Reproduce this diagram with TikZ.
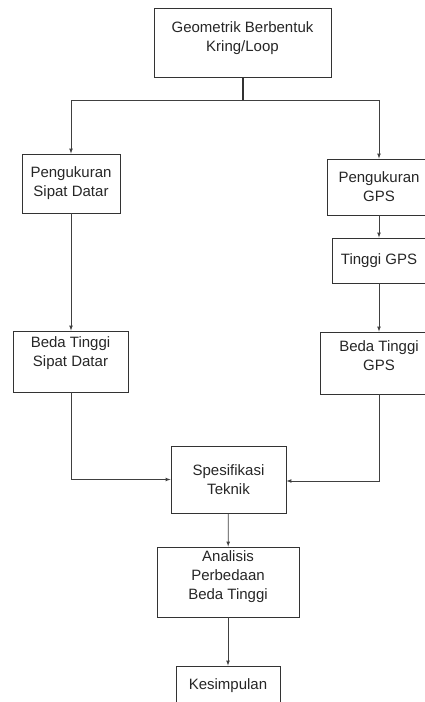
\documentclass[tikz,border=0pt]{standalone}
\usepackage{fontspec}
\setmainfont{Liberation Sans}
\usepackage{tikz}

\tikzset{
  kotak/.style={draw=black!80, line width=0.9pt, align=center, inner sep=0pt,
    text=black!85, font=\fontsize{15}{19}\selectfont},
  panah/.style={draw=black!75, line width=0.7pt, ->}
}

\begin{document}
\begin{tikzpicture}[>=latex, x=1pt, y=-1pt]
\path[use as bounding box] (0,0) rectangle (425,702);
\clip (0,0) rectangle (425,702);

% kotak-kotak
\node[kotak, minimum width=177pt, minimum height=69pt] (geo) at (242.5,42.5)
  {Geometrik Berbentuk\\Kring/Loop\\[-8pt]};
\node[kotak, minimum width=98pt, minimum height=59pt] (pSD) at (71,183.5)
  {Pengukuran\\Sipat Datar};
\node[kotak, minimum width=104pt, minimum height=56pt] (pGPS) at (379,187)
  {Pengukuran\\GPS};
\node[kotak, minimum width=94pt, minimum height=45pt] (tGPS) at (379,260.5)
  {Tinggi GPS};
\node[kotak, minimum width=115pt, minimum height=61pt] (bSD) at (70.5,361.5)
  {Beda Tinggi\\Sipat Datar\\};
\node[kotak, minimum width=118pt, minimum height=62pt] (bGPS) at (379,363)
  {Beda Tinggi\\GPS\\[-5pt]};
\node[kotak, minimum width=115pt, minimum height=67pt] (spek) at (228.5,479.5)
  {Spesifikasi\\Teknik};
\node[kotak, minimum width=142pt, minimum height=70pt] (anal) at (228,582)
  {Analisis\\Perbedaan\\Beda Tinggi\\[-5pt]};
\node[kotak, minimum width=104pt, minimum height=40pt] (kes) at (228,686)
  {Kesimpulan};

% garis
\coordinate (cabang) at (242.5,100);
\draw[draw=black!80, line width=2pt] (geo.south) -- (cabang);
\draw[panah] (cabang) -| (pSD.north);
\draw[panah] (cabang) -| (pGPS.north);
\draw[panah] (pSD) -- (bSD.north -| pSD.south);
\draw[panah] (pGPS) -- (tGPS);
\draw[panah] (tGPS) -- (bGPS);
\draw[panah] (bSD.south -| pSD.south) |- (spek.west);
\draw[panah] (bGPS.south) |- ([yshift=-1.5pt]spek.east);
\draw[panah] (spek) -- (anal);
\draw[panah] (anal) -- (kes);
\end{tikzpicture}
\end{document}
